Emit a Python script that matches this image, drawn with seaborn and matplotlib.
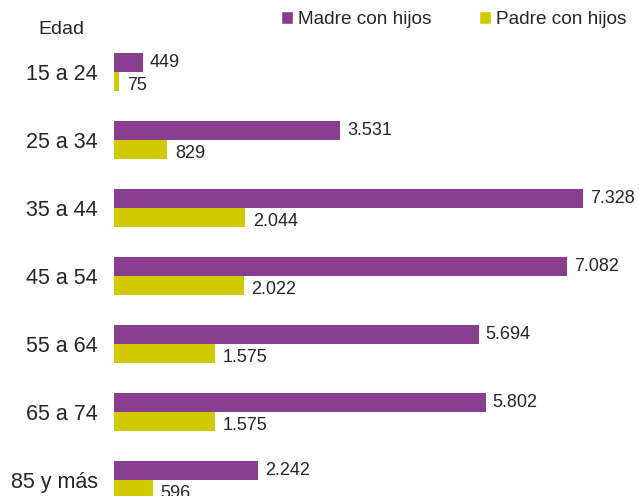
import matplotlib
matplotlib.use("Agg")
import matplotlib.pyplot as plt
from matplotlib.patches import Patch
import pandas as pd
import seaborn as sns

edades = ['15 a 24', '25 a 34', '35 a 44', '45 a 54', '55 a 64', '65 a 74', '85 y más']
madre = [449, 3531, 7328, 7082, 5694, 5802, 2242]
padre = [75, 829, 2044, 2022, 1575, 1575, 596]
series = ['Madre con hijos', 'Padre con hijos']

morado = '#893D8F'
amarillo = '#D1CA00'
gris = '#262626'

df = pd.DataFrame({
    'Edad': edades * 2,
    'Valor': madre + padre,
    'Grupo': [series[0]] * len(edades) + [series[1]] * len(edades),
})

sns.set_style('white')
plt.rcParams['font.family'] = ['Liberation Sans', 'DejaVu Sans']
plt.rcParams['text.color'] = gris

fig = plt.figure(figsize=(6.39, 4.96), dpi=100)
ax = fig.add_axes([0.179, 0.0, 0.801, 0.919])

sns.barplot(data=df, y='Edad', x='Valor', hue='Grupo', orient='h',
            palette=[morado, amarillo], width=0.56, saturation=1,
            dodge=True, legend=False, linewidth=0, ax=ax)

ax.set_xlim(0, 8000)
ax.set_ylim(6.235, -0.47)
sns.despine(ax=ax, left=True, bottom=True)
ax.set_xticks([])
ax.set_xlabel('')
ax.set_ylabel('')
ax.tick_params(axis='y', length=0, pad=12, labelsize=15.5, labelcolor=gris)

# etiquetas de valores
offsets = [(5, 0), (5.5, -3)]
for cont, off in zip(ax.containers, offsets):
    for bar in cont:
        w = bar.get_width()
        yc = bar.get_y() + bar.get_height() / 2
        ax.annotate(f'{int(w):,}'.replace(',', '.'), xy=(w, yc), xytext=off,
                    textcoords='offset points', ha='left', va='center',
                    fontsize=13, color=gris, annotation_clip=False)

fig.text(38 / 639, 1 - 29 / 496, 'Edad', fontsize=14, color=gris, va='center')

handles = [Patch(facecolor=morado, label=series[0]),
           Patch(facecolor=amarillo, label=series[1])]
fig.legend(handles=handles, loc='upper left', bbox_to_anchor=(281 / 639, 1 - 11 / 496),
           ncol=2, frameon=False, fontsize=13.7, handlelength=0.65, handleheight=0.65,
           handletextpad=0.25, columnspacing=2.5, borderpad=0, borderaxespad=0)

fig.savefig('out.png', dpi=100)
plt.close(fig)
